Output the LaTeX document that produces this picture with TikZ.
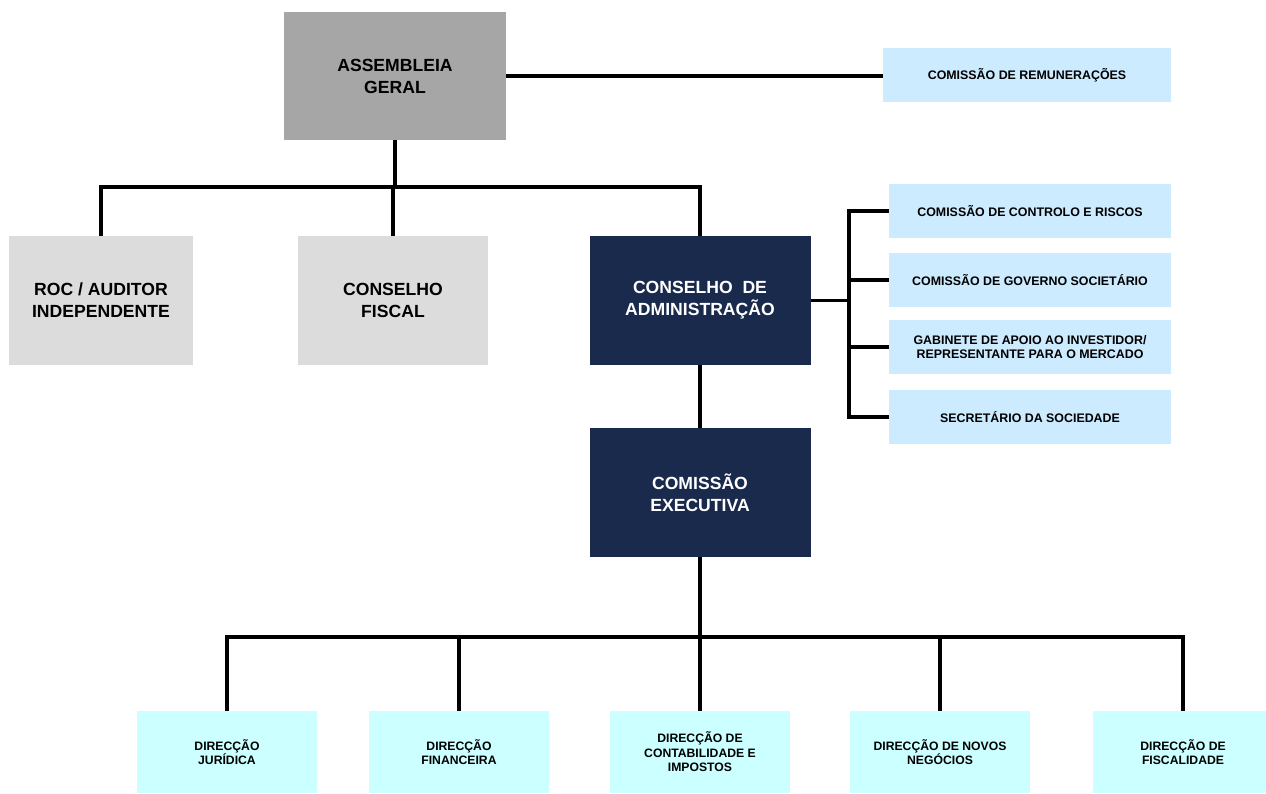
\documentclass[tikz,border=0pt]{standalone}
\usepackage{fontspec}
\setmainfont{Liberation Sans}
\definecolor{agray}{HTML}{A6A6A6}
\definecolor{lgray}{HTML}{DCDCDC}
\definecolor{navy}{HTML}{1A2A4C}
\definecolor{lblue}{HTML}{CCEBFF}
\definecolor{lcyan}{HTML}{CCFFFF}
\begin{document}
\begin{tikzpicture}[x=1pt,y=-1pt,
  box/.style={rectangle,inner sep=0pt,align=center,font=\bfseries},
  bigbox/.style={box,minimum width=221pt,minimum height=128pt,font=\fontsize{17.6}{22}\selectfont\bfseries},
  sidebox/.style={box,fill=lblue,minimum width=282pt,minimum height=54pt,font=\fontsize{12.4}{14}\selectfont\bfseries},
  dirbox/.style={box,fill=lcyan,minimum width=180pt,minimum height=82pt,font=\fontsize{12.2}{14.5}\selectfont\bfseries},
  conn/.style={draw=black,line width=3.2pt}]
\useasboundingbox (0,0) rectangle (1266,793);
% top
\node[bigbox,fill=agray,minimum width=222pt] (ag) at (395,76) {ASSEMBLEIA\\GERAL};
\node[sidebox,minimum width=288pt] (rem) at (1027,75) {COMISSÃO DE REMUNERAÇÕES};
% second row
\node[bigbox,fill=lgray,minimum width=184pt,minimum height=129pt] (roc) at (101,300.5) {ROC / AUDITOR\\INDEPENDENTE};
\node[bigbox,fill=lgray,minimum width=190pt,minimum height=129pt] (fis) at (393,300.5) {CONSELHO\\FISCAL};
\node[bigbox,fill=navy,text=white,minimum height=129pt] (ca) at (700,300.5) {CONSELHO\ \ DE\\ADMINISTRAÇÃO};
% side committees
\node[sidebox] (c1) at (1030,211) {COMISSÃO DE CONTROLO E RISCOS};
\node[sidebox] (c2) at (1030,280) {COMISSÃO DE GOVERNO SOCIETÁRIO};
\node[sidebox] (c3) at (1030,347) {GABINETE DE APOIO AO INVESTIDOR/\\REPRESENTANTE PARA O MERCADO};
\node[sidebox] (c4) at (1030,417) {SECRETÁRIO DA SOCIEDADE};
% executive
\node[bigbox,fill=navy,text=white,minimum height=129pt] (ce) at (700,492.5) {COMISSÃO\\EXECUTIVA};
% directions
\node[dirbox] (d1) at (227,752) {DIRECÇÃO\\JURÍDICA};
\node[dirbox] (d2) at (459,752) {DIRECÇÃO\\FINANCEIRA};
\node[dirbox] (d3) at (700,752) {DIRECÇÃO DE\\CONTABILIDADE E\\IMPOSTOS};
\node[dirbox] (d4) at (940,752) {DIRECÇÃO DE NOVOS\\NEGÓCIOS};
\node[dirbox] (d5) at (1183,752) {DIRECÇÃO DE\\FISCALIDADE};
% connectors
\coordinate (bus1) at (0,187);
\coordinate (rb) at (849,0);
\coordinate (bus2) at (0,637);
\draw[conn] (ag.east) -- (ag.east -| rem.west);
\draw[conn] (ag.south) -- (ag.south |- bus1);
\draw[conn] (roc.north) -- (roc.north |- bus1) -- (ca.north |- bus1) -- (ca.north);
\draw[conn] (fis.north) -- (fis.north |- bus1);
\draw[conn] (ca.east) -- (ca.east -| rb);
\draw[conn] (c1.west) -- (c1.west -| rb) -- (c4.west -| rb) -- (c4.west);
\draw[conn] (c2.west) -- (c2.west -| rb);
\draw[conn] (c3.west) -- (c3.west -| rb);
\draw[conn] (ca.south) -- (ce.north);
\draw[conn] (ce.south) -- (ce.south |- bus2);
\draw[conn] (d1.north) -- (d1.north |- bus2) -- (d5.north |- bus2) -- (d5.north);
\draw[conn] (d2.north) -- (d2.north |- bus2);
\draw[conn] (d3.north) -- (d3.north |- bus2);
\draw[conn] (d4.north) -- (d4.north |- bus2);
\end{tikzpicture}
\end{document}
